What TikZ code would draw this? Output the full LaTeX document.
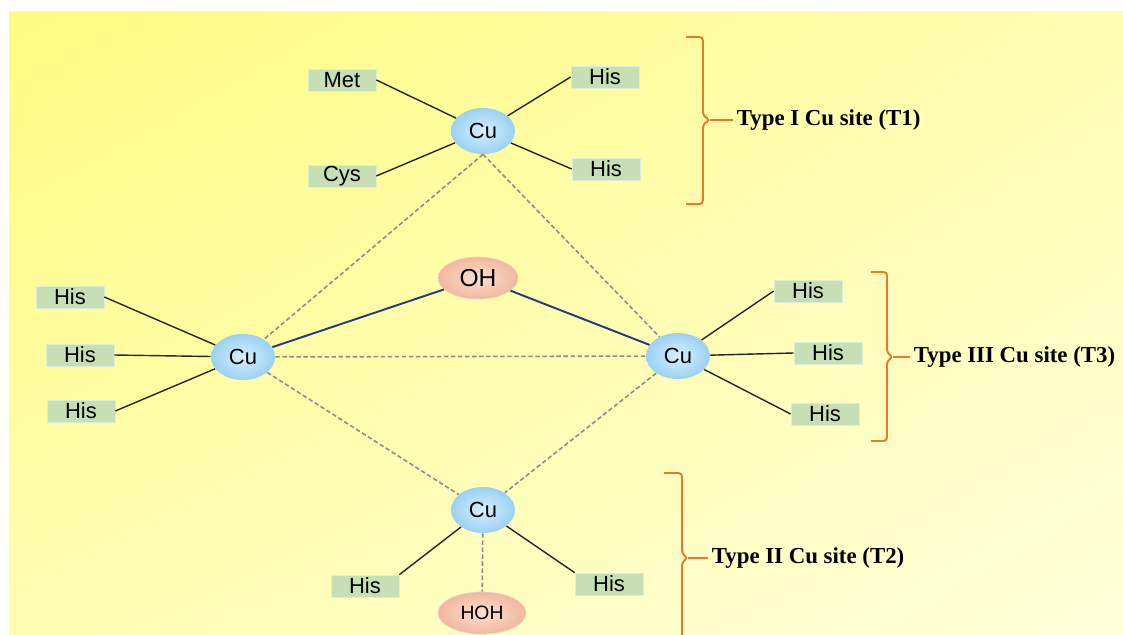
\documentclass[tikz,border=0pt]{standalone}
\usepackage{fontspec}
\setmainfont{Liberation Sans}
\newfontfamily\sitefont{Liberation Serif}
\usetikzlibrary{shapes.geometric,shadings}
\definecolor{CuBlue}{HTML}{9AD1F4}
\definecolor{CuLight}{HTML}{D6F0FE}
\definecolor{IonPink}{HTML}{F2B79D}
\definecolor{IonLight}{HTML}{FCE0D2}
\definecolor{ResGreen}{HTML}{C6DFB5}
\definecolor{BondBlue}{HTML}{1F3C84}
\definecolor{BraceOrange}{HTML}{E8792E}
\definecolor{BgTop}{HTML}{FFFB80}
\definecolor{BgBottom}{HTML}{FFFFDA}

\begin{document}
\begin{tikzpicture}[x=0.02cm, y=-0.02cm, every node/.style={font=\fontsize{12.5}{14}\selectfont},
  cu/.style={ellipse,inner color=CuLight,outer color=CuBlue,minimum width=1.28cm,minimum height=0.92cm,inner sep=0pt},
  ion/.style={ellipse,inner color=IonLight,outer color=IonPink,draw=IonPink!80!black!40,minimum height=0.84cm,inner sep=0pt},
  res/.style={fill=ResGreen,draw=ResGreen!55!white,minimum width=1.36cm,minimum height=0.44cm,inner sep=0pt},
  bond/.style={black!85,line width=0.8pt},
  weak/.style={black!45,line width=0.9pt,dash pattern=on 2.5pt off 1.5pt},
  bridge/.style={BondBlue,line width=1.1pt},
  brace/.style={BraceOrange,line width=1.1pt,rounded corners=2pt},
  site/.style={font=\sitefont\bfseries\fontsize{13}{15}\selectfont,anchor=west,inner sep=2pt}]
% background
\fill[white] (0,0) rectangle (1123,635);
\shade[upper left=BgTop,lower right=BgBottom,upper right=BgTop!45!BgBottom,lower left=BgTop!45!BgBottom] (9,12) rectangle (1123,635);
\useasboundingbox (0,0) rectangle (1123,635);

% copper centres
\node[cu] (cu1) at (483,131) {Cu};
\node[cu] (cul) at (243,357) {Cu};
\node[cu] (cur) at (678,356) {Cu};
\node[cu] (cub) at (483,510) {Cu};
\node[ion,minimum width=1.6cm,font=\fontsize{14}{16}\selectfont] (oh) at (478,278) {OH};
\node[ion,minimum width=1.76cm,font=\fontsize{11}{13}\selectfont] (hoh) at (482,613) {HOH};

% ligands
\node[res] (met) at (342,80) {Met};
\node[res] (cys) at (342,176) {Cys};
\node[res] (his1) at (605,77) {His};
\node[res] (his2) at (606,169) {His};
\node[res] (hisl1) at (70,297) {His};
\node[res] (hisl2) at (80,355) {His};
\node[res] (hisl3) at (81,411) {His};
\node[res] (hisr1) at (808,291) {His};
\node[res] (hisr2) at (828,353) {His};
\node[res] (hisr3) at (825,414) {His};
\node[res] (hisb1) at (365,586) {His};
\node[res] (hisb2) at (609,584) {His};

% bonds
\draw[bond] (met.east) -- (cu1);
\draw[bond] (cys.east) -- (cu1);
\draw[bond] (his1.west) -- (cu1);
\draw[bond] (his2.west) -- (cu1);
\draw[bond] (hisl1.east) -- (cul);
\draw[bond] (hisl2.east) -- (cul);
\draw[bond] (hisl3.east) -- (cul);
\draw[bond] (hisr1.west) -- (cur);
\draw[bond] (hisr2.west) -- (cur);
\draw[bond] (hisr3.west) -- (cur);
\draw[bond] (hisb1.north east) -- (cub);
\draw[bond] (hisb2.north west) -- (cub);
\draw[bridge] (cul) -- (oh);
\draw[bridge] (oh) -- (cur);
\draw[weak] (cu1.south) -- (cul);
\draw[weak] (cu1.south) -- (cur);
\draw[weak] (cul) -- (cur);
\draw[weak] (cul) -- (cub);
\draw[weak] (cur) -- (cub);
\draw[weak] (cub) -- (hoh);

% site braces
\draw[brace] (686,37) -- (703,37) -- (703,116) -- (710,120) -- (703,124) -- (703,204) -- (686,204);
\coordinate (t1tip) at (710,120);
\node[site] (t1) at (733,120) {Type I Cu site (T1)};
\draw[brace] (t1tip) -- (t1);
\draw[brace] (871,272) -- (887,272) -- (887,353) -- (893,357) -- (887,361) -- (887,441) -- (871,441);
\coordinate (t3tip) at (893,357);
\node[site] (t3) at (910,357) {Type III Cu site (T3)};
\draw[brace] (t3tip) -- (t3);
\draw[brace] (664,473) -- (682,473) -- (682,554) -- (688,558) -- (682,562) -- (682,636);
\coordinate (t2tip) at (688,558);
\node[site] (t2) at (708,558) {Type II Cu site (T2)};
\draw[brace] (t2tip) -- (t2);
\end{tikzpicture}
\end{document}
